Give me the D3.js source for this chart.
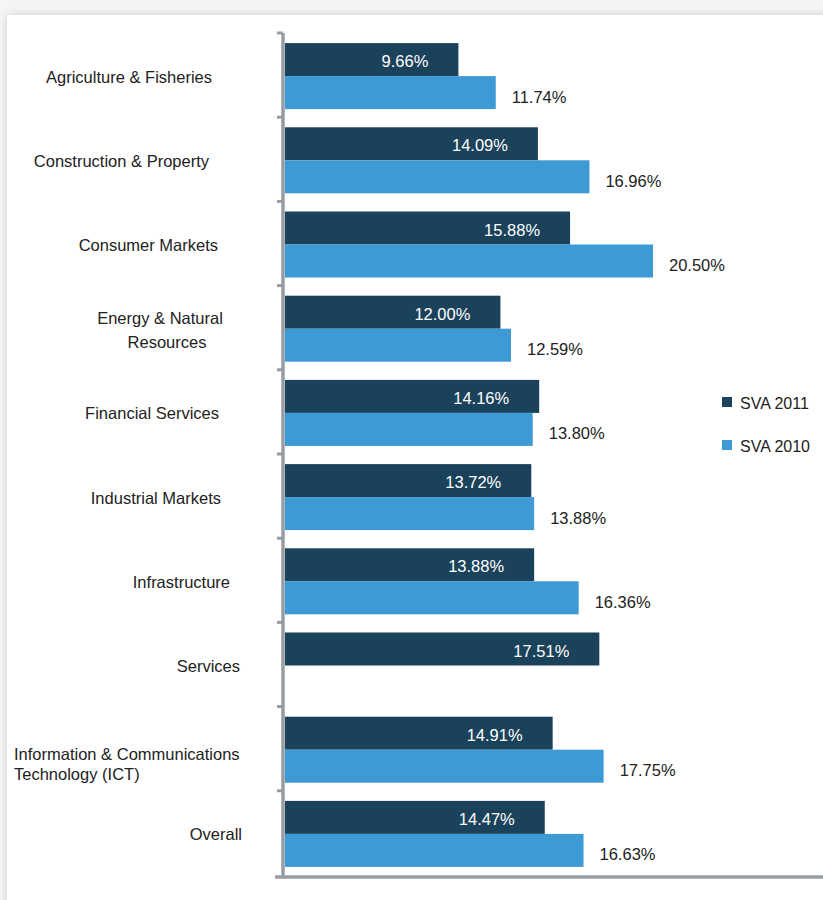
<!DOCTYPE html>
<html>
<head>
<meta charset="utf-8">
<script src="https://cdn.jsdelivr.net/npm/d3@7"></script>
<style>
  html, body { margin: 0; padding: 0; background: #f4f5f4; }
  svg { display: block; }
  text { font-family: "Liberation Sans", Arial, sans-serif; }
</style>
</head>
<body>
<svg id="chart" width="823" height="900"></svg>
<script>
// Sector shareholder value added, 2011 vs 2010
const categories = [
  "Agriculture & Fisheries",
  "Construction & Property",
  "Consumer Markets",
  "Energy & Natural Resources",
  "Financial Services",
  "Industrial Markets",
  "Infrastructure",
  "Services",
  "Information & Communications Technology (ICT)",
  "Overall"
];
const categoryLines = [
  ["Agriculture & Fisheries"],
  ["Construction & Property"],
  ["Consumer Markets"],
  ["Energy & Natural", "Resources"],
  ["Financial Services"],
  ["Industrial Markets"],
  ["Infrastructure"],
  ["Services"],
  ["Information & Communications", "Technology (ICT)"],
  ["Overall"]
];
const seriesNames = ["SVA 2011", "SVA 2010"];
const sva2011 = [9.66, 14.09, 15.88, 12.00, 14.16, 13.72, 13.88, 17.51, 14.91, 14.47];
const sva2010 = [11.74, 16.96, 20.50, 12.59, 13.80, 13.88, 16.36, null, 17.75, 16.63];

const colors = { "SVA 2011": "#1b425b", "SVA 2010": "#3d9ad5" };
const axisColor = "#979ca3";
const textColor = "#222";
const fs = 16.5;

const svg = d3.select("#chart");

// Page panel with soft shadow
const defs = svg.append("defs");
const f = defs.append("filter").attr("id", "shadow")
  .attr("x", "-5%").attr("y", "-5%").attr("width", "110%").attr("height", "110%");
f.append("feGaussianBlur").attr("in", "SourceAlpha").attr("stdDeviation", 4);
f.append("feComponentTransfer").append("feFuncA").attr("type", "linear").attr("slope", 0.18);
const m = f.append("feMerge");
m.append("feMergeNode");
m.append("feMergeNode").attr("in", "SourceGraphic");

svg.append("rect")
  .attr("x", 7).attr("y", 15).attr("width", 830).attr("height", 900)
  .attr("fill", "#fff").attr("filter", "url(#shadow)");

// Scales
const x0 = 285;
const x = d3.scaleLinear().domain([0, 20.5]).range([x0, 653]);
const y = d3.scaleBand().domain(categories).range([33, 875]).paddingInner(0).paddingOuter(0);
const barH = 33;

// Vertical axis
const yAxis = d3.axisLeft(y).tickSize(0).tickFormat("");
const gAxis = svg.append("g").attr("transform", `translate(${x0 - 2},0)`).call(yAxis);
gAxis.select(".domain").attr("stroke", axisColor).attr("stroke-width", 3.5).attr("d", "M0,33V877");

// Category boundary ticks
const boundaries = categories.map(c => y(c));
svg.append("g").selectAll("line").data(boundaries).join("line")
  .attr("x1", x0 - 8).attr("x2", x0 - 2)
  .attr("y1", d => d).attr("y2", d => d)
  .attr("stroke", axisColor).attr("stroke-width", 3);

// Bottom axis
svg.append("line")
  .attr("x1", x0 - 10).attr("x2", 823)
  .attr("y1", 877).attr("y2", 877)
  .attr("stroke", axisColor).attr("stroke-width", 3.5);

// Bars
const rows = categories.map((c, i) => ({ c, i, v11: sva2011[i], v10: sva2010[i] }));
const mid = d => y(d.c) + y.bandwidth() / 2 + 1;
const g = svg.append("g");

g.selectAll("rect.s11").data(rows).join("rect")
  .attr("class", "s11")
  .attr("x", x0)
  .attr("y", d => mid(d) - barH)
  .attr("width", d => x(d.v11) - x0)
  .attr("height", barH)
  .attr("fill", colors["SVA 2011"]);

g.selectAll("rect.s10").data(rows.filter(d => d.v10 != null)).join("rect")
  .attr("class", "s10")
  .attr("x", x0)
  .attr("y", d => mid(d))
  .attr("width", d => x(d.v10) - x0)
  .attr("height", barH)
  .attr("fill", colors["SVA 2010"]);

// Value labels
g.selectAll("text.l11").data(rows).join("text")
  .attr("class", "l11")
  .attr("x", d => x(d.v11) - 30)
  .attr("y", d => mid(d) - barH / 2 + 7.5)
  .attr("text-anchor", "end")
  .attr("font-size", fs)
  .attr("fill", "#fff")
  .text(d => d.v11.toFixed(2) + "%");

g.selectAll("text.l10").data(rows.filter(d => d.v10 != null)).join("text")
  .attr("class", "l10")
  .attr("x", d => x(d.v10) + 16)
  .attr("y", d => mid(d) + barH / 2 + 10)
  .attr("text-anchor", "start")
  .attr("font-size", fs)
  .attr("fill", textColor)
  .text(d => d.v10.toFixed(2) + "%");

// Category labels
const labelRight = [212, 209, 218, null, 219, 221, 230, 240, null, 242];
const cg = svg.append("g");
rows.forEach((d, i) => {
  const lines = categoryLines[i];
  const cy = y(d.c) + y.bandwidth() / 2;
  if (i === 8) {
    lines.forEach((t, k) => {
      cg.append("text")
        .attr("x", 14)
        .attr("y", cy + 11 + k * 20)
        .attr("font-size", fs).attr("fill", textColor)
        .text(t);
    });
  } else if (i === 3) {
    const centers = [160, 167];
    lines.forEach((t, k) => {
      cg.append("text")
        .attr("x", centers[k])
        .attr("y", cy - 4 + k * 24)
        .attr("text-anchor", "middle")
        .attr("font-size", fs).attr("fill", textColor)
        .text(t);
    });
  } else {
    cg.append("text")
      .attr("x", labelRight[i])
      .attr("y", cy + 7.5)
      .attr("text-anchor", "end")
      .attr("font-size", fs).attr("fill", textColor)
      .text(lines[0]);
  }
});

// Legend
const lg = svg.append("g").attr("transform", "translate(722,397)");
seriesNames.forEach((s, i) => {
  const row = lg.append("g").attr("transform", `translate(0,${i * 43})`);
  row.append("rect").attr("width", 10).attr("height", 10).attr("fill", colors[s]);
  row.append("text").attr("x", 18).attr("y", 12)
    .attr("font-size", 16).attr("fill", textColor).text(s);
});
</script>
</body>
</html>
